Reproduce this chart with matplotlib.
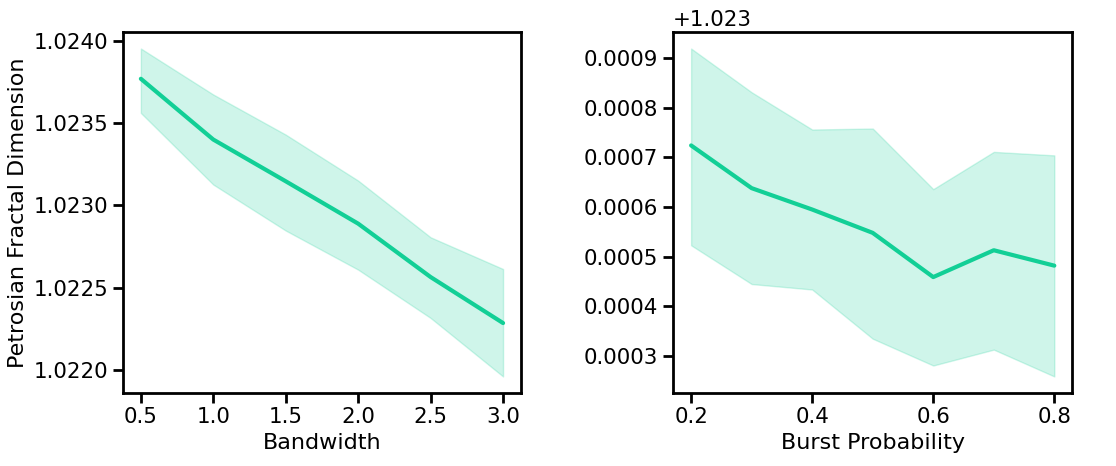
import matplotlib
matplotlib.use('Agg')
import matplotlib.pyplot as plt
import seaborn as sns

sns.set_theme(style='ticks', context='talk')
plt.rcParams['font.family'] = ['DejaVu Sans']
plt.rcParams['text.color'] = 'black'
plt.rcParams['axes.labelcolor'] = 'black'
plt.rcParams['xtick.color'] = 'black'
plt.rcParams['ytick.color'] = 'black'
plt.rcParams['xtick.labelsize'] = 15.4
plt.rcParams['ytick.labelsize'] = 15.4
plt.rcParams['axes.labelsize'] = 16

color = '#12cf96'

# Bandwidth panel
bandwidth = [0.5, 1.0, 1.5, 2.0, 2.5, 3.0]
bw_mean = [1.023771, 1.023401, 1.023147, 1.022889, 1.022564, 1.022284]
bw_upper = [1.023955, 1.023675, 1.023431, 1.023151, 1.022806, 1.022613]
bw_lower = [1.023563, 1.023127, 1.022847, 1.022609, 1.022315, 1.021959]

# Burst probability panel
burst = [0.2, 0.3, 0.4, 0.5, 0.6, 0.7, 0.8]
bp_mean = [1.023724, 1.023638, 1.023595, 1.023548, 1.023459, 1.023513, 1.023482]
bp_upper = [1.023919, 1.023831, 1.023756, 1.023758, 1.023636, 1.023711, 1.023704]
bp_lower = [1.023523, 1.023445, 1.023434, 1.023335, 1.023281, 1.023313, 1.023259]

bw_ticks = [0.5, 1.0, 1.5, 2.0, 2.5, 3.0]
bw_yticks = [1.0220, 1.0225, 1.0230, 1.0235, 1.0240]
bp_ticks = [0.2, 0.4, 0.6, 0.8]
bp_yticks = [1.0233, 1.0234, 1.0235, 1.0236, 1.0237, 1.0238, 1.0239]

fig = plt.figure(figsize=(11.16, 4.66), dpi=100)
ax1 = fig.add_axes([0.110, 0.157, 0.357, 0.774])
ax2 = fig.add_axes([0.603, 0.157, 0.358, 0.774])

ax1.plot(bandwidth, bw_mean, color=color, lw=3)
ax1.fill_between(bandwidth, bw_lower, bw_upper, color=color, alpha=0.2, lw=1)
ax1.set_xlabel('Bandwidth')
ax1.set_ylabel('Petrosian Fractal Dimension')
ax1.set_xticks(bw_ticks)
ax1.set_xticklabels(['%.1f' % t for t in bw_ticks])
ax1.set_yticks(bw_yticks)
ax1.set_yticklabels(['%.4f' % t for t in bw_yticks])

ax2.plot(burst, bp_mean, color=color, lw=3)
ax2.fill_between(burst, bp_lower, bp_upper, color=color, alpha=0.2, lw=1)
ax2.set_xlabel('Burst Probability')
ax2.set_xticks(bp_ticks)
ax2.set_xticklabels(['%.1f' % t for t in bp_ticks])
ax2.set_yticks(bp_yticks)
ax2.set_yticklabels(['%.4f' % (t - 1.023) for t in bp_yticks])
ax2.text(0.0, 1.005, '+1.023', transform=ax2.transAxes, fontsize=15.4,
         ha='left', va='bottom')

for ax in (ax1, ax2):
    for s in ax.spines.values():
        s.set_linewidth(2)
        s.set_color('black')
    ax.tick_params(width=2, length=7)

fig.savefig('out.png', dpi=100)
